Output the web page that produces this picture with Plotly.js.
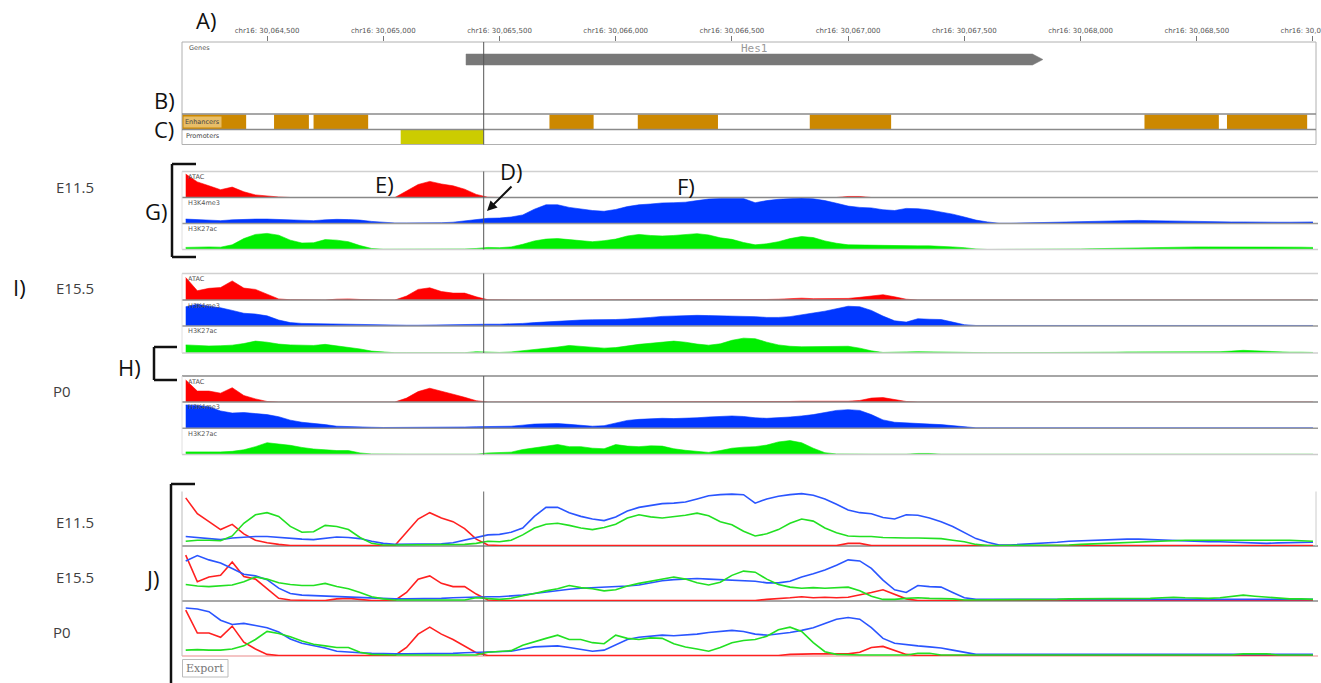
<!DOCTYPE html>
<html><head><meta charset="utf-8">
<script src="https://cdn.plot.ly/plotly-3.0.1.min.js"></script>
<style>html,body{margin:0;padding:0;background:#fff;}#chart{width:1321px;height:683px;}</style>
</head><body><div id="chart"></div>
<script>
// ---------------- DATA ----------------
const viewStart = 30064134, viewEnd = 30069013;
const tickPositions = [30064500,30065000,30065500,30066000,30066500,30067000,30067500,30068000,30068500,30069000];
const tickLabels = ["chr16: 30,064,500","chr16: 30,065,000","chr16: 30,065,500","chr16: 30,066,000","chr16: 30,066,500","chr16: 30,067,000","chr16: 30,067,500","chr16: 30,068,000","chr16: 30,068,500","chr16: 30,069,000"];
const cursorPos = 30065432;
const geneName = "Hes1", geneStart = 30065356, geneEnd = 30067838;
const enhancerStarts = [30064100,30064530,30064700,30065715,30066095,30066835,30068275,30068630];
const enhancerEnds   = [30064410,30064680,30064935,30065905,30066440,30067185,30068595,30068975];
const promoterStarts = [30065075];
const promoterEnds   = [30065432];
const stages = ["E11.5","E15.5","P0"];
const marks = ["ATAC","H3K4me3","H3K27ac"];
const positions = [
30064150,30064200,30064250,30064300,30064350,30064400,30064450,30064500,30064550,30064600,
30064650,30064700,30064750,30064800,30064850,30064900,30064950,30065000,30065050,30065100,
30065150,30065200,30065250,30065300,30065350,30065400,30065450,30065500,30065550,30065600,
30065650,30065700,30065750,30065800,30065850,30065900,30065950,30066000,30066050,30066100,
30066150,30066200,30066250,30066300,30066350,30066400,30066450,30066500,30066550,30066600,
30066650,30066700,30066750,30066800,30066850,30066900,30066950,30067000,30067050,30067100,
30067150,30067200,30067250,30067300,30067350,30067400,30067450,30067500,30067550,30067600,
30067650,30067700,30067750,30067800,30067850,30067900,30067950,30068000,30068050,30068100,
30068150,30068200,30068250,30068300,30068350,30068400,30068450,30068500,30068550,30068600,
30068650,30068700,30068750,30068800,30068850,30068900,30068950,30069000];

const atacE11 = [
0.9,0.6,0.45,0.3,0.4,0.22,0.1,0.05,0.02,0,
0,0,0,0,0,0,0,0,0,0.25,
0.5,0.62,0.52,0.45,0.32,0.12,0.01,0,0,0,
0,0,0,0,0,0,0,0,0,0,
0,0,0,0,0,0,0,0,0,0,
0,0,0,0,0,0,0,0.04,0.04,0,
0,0,0,0,0,0,0,0,0,0,
0,0,0,0,0,0,0,0,0,0,
0,0,0,0,0,0,0,0,0,0,
0,0,0,0,0,0,0,0];
const k4E11 = [
0.17,0.15,0.12,0.11,0.14,0.16,0.17,0.17,0.15,0.14,
0.12,0.11,0.14,0.16,0.15,0.13,0.08,0.04,0.02,0.02,
0.02,0.02,0.03,0.05,0.1,0.16,0.2,0.21,0.25,0.33,
0.55,0.72,0.72,0.62,0.55,0.5,0.47,0.54,0.65,0.72,
0.75,0.79,0.8,0.82,0.88,0.94,0.96,0.97,0.96,0.8,
0.88,0.93,0.96,0.98,0.95,0.88,0.78,0.67,0.62,0.6,
0.53,0.5,0.58,0.57,0.52,0.45,0.36,0.25,0.13,0.06,
0.01,0.01,0.02,0.03,0.04,0.06,0.08,0.09,0.1,0.11,
0.12,0.12,0.12,0.11,0.1,0.09,0.08,0.08,0.07,0.07,
0.06,0.06,0.05,0.04,0.05,0.05,0.06,0.06];
const k27E11 = [
0.08,0.1,0.1,0.09,0.18,0.42,0.58,0.62,0.55,0.36,
0.25,0.26,0.38,0.36,0.3,0.15,0.04,0.01,0.01,0.01,
0.01,0.01,0.01,0.01,0.02,0.04,0.08,0.07,0.1,0.2,
0.33,0.4,0.42,0.38,0.33,0.3,0.34,0.4,0.52,0.58,
0.54,0.52,0.54,0.57,0.61,0.56,0.45,0.39,0.27,0.18,
0.22,0.3,0.42,0.5,0.46,0.33,0.24,0.18,0.17,0.17,
0.15,0.14,0.14,0.14,0.14,0.13,0.1,0.07,0.02,0,
0,0,0,0,0,0,0.01,0.02,0.03,0.04,
0.05,0.06,0.07,0.08,0.09,0.09,0.1,0.1,0.1,0.1,
0.1,0.1,0.1,0.11,0.11,0.1,0.09,0.08];
const atacE15 = [
0.85,0.35,0.44,0.47,0.72,0.45,0.4,0.22,0.04,0.01,
0,0,0,0.03,0.04,0.02,0,0,0,0.15,
0.4,0.46,0.32,0.26,0.26,0.12,0.01,0,0,0,
0,0,0,0,0,0,0,0,0,0,
0,0,0,0,0,0,0,0,0,0,
0.02,0.03,0.05,0.07,0.05,0.06,0.05,0.06,0.1,0.15,
0.2,0.12,0.03,0,0,0,0,0,0,0,
0,0,0,0,0,0,0,0,0,0,
0,0,0,0,0,0,0,0,0,0,
0,0,0,0,0,0,0,0];
const k4E15 = [
0.74,0.84,0.76,0.7,0.6,0.49,0.46,0.39,0.23,0.13,
0.1,0.09,0.08,0.07,0.07,0.06,0.05,0.04,0.03,0.03,
0.03,0.04,0.04,0.05,0.06,0.07,0.07,0.07,0.08,0.1,
0.13,0.16,0.19,0.21,0.23,0.24,0.24,0.25,0.27,0.29,
0.33,0.37,0.39,0.4,0.41,0.4,0.39,0.39,0.38,0.36,
0.33,0.33,0.36,0.44,0.5,0.57,0.66,0.76,0.74,0.6,
0.38,0.2,0.15,0.28,0.26,0.25,0.15,0.05,0.02,0.02,
0.02,0.02,0.02,0.02,0.02,0.02,0.02,0.02,0.03,0.03,
0.03,0.03,0.03,0.03,0.03,0.03,0.03,0.03,0.03,0.02,
0.02,0.02,0.03,0.03,0.03,0.02,0.02,0.02];
const k27E15 = [
0.3,0.27,0.26,0.27,0.29,0.35,0.44,0.4,0.33,0.3,
0.28,0.28,0.32,0.26,0.22,0.15,0.07,0.03,0.01,0.01,
0.01,0.01,0.01,0.01,0.01,0.05,0.04,0.02,0.04,0.08,
0.13,0.18,0.22,0.28,0.24,0.22,0.18,0.2,0.27,0.32,
0.36,0.41,0.44,0.4,0.33,0.29,0.34,0.47,0.55,0.53,
0.4,0.3,0.25,0.23,0.24,0.23,0.24,0.25,0.18,0.08,
0.02,0.02,0.04,0.05,0.04,0.04,0.03,0.01,0.01,0.01,
0.01,0.01,0.02,0.02,0.02,0.02,0.03,0.03,0.03,0.03,
0.03,0.04,0.04,0.04,0.05,0.06,0.05,0.04,0.04,0.05,
0.07,0.1,0.08,0.06,0.04,0.03,0.03,0.02];
const atacP0 = [
0.85,0.42,0.42,0.34,0.55,0.25,0.12,0.02,0,0,
0,0,0,0,0,0,0,0,0,0.15,
0.4,0.53,0.4,0.3,0.18,0.05,0,0,0,0,
0,0,0,0,0,0,0,0,0,0,
0,0,0,0,0,0,0,0,0,0,
0,0,0.02,0.03,0.03,0.03,0.03,0.03,0.06,0.15,
0.17,0.1,0.02,0,0,0,0,0,0,0,
0,0,0,0,0,0,0,0,0,0,
0,0,0,0,0,0,0,0,0,0,
0,0,0,0,0,0,0,0];
const k4P0 = [
0.89,0.87,0.82,0.66,0.58,0.6,0.56,0.52,0.44,0.31,
0.23,0.19,0.14,0.08,0.06,0.05,0.04,0.03,0.03,0.03,
0.03,0.03,0.03,0.04,0.05,0.06,0.07,0.07,0.08,0.12,
0.16,0.17,0.18,0.15,0.11,0.08,0.1,0.2,0.3,0.34,
0.36,0.38,0.37,0.38,0.4,0.43,0.45,0.47,0.45,0.4,
0.38,0.4,0.43,0.47,0.52,0.6,0.68,0.71,0.68,0.52,
0.32,0.23,0.2,0.18,0.16,0.14,0.1,0.06,0.02,0.02,
0.02,0.02,0.02,0.02,0.02,0.02,0.02,0.02,0.02,0.02,
0.02,0.02,0.02,0.02,0.02,0.02,0.02,0.02,0.02,0.02,
0.03,0.03,0.03,0.03,0.02,0.02,0.02,0.02];
const k27P0 = [
0.1,0.11,0.1,0.1,0.12,0.18,0.3,0.45,0.41,0.35,
0.27,0.21,0.18,0.15,0.15,0.06,0.02,0.01,0.01,0.01,
0.01,0.01,0.01,0.01,0.01,0.01,0.06,0.07,0.09,0.19,
0.26,0.32,0.38,0.3,0.3,0.24,0.22,0.38,0.32,0.3,
0.33,0.32,0.22,0.16,0.12,0.08,0.15,0.24,0.28,0.3,
0.36,0.48,0.53,0.45,0.24,0.07,0.02,0.01,0.01,0.01,
0.01,0.01,0.01,0.04,0.04,0.01,0.01,0.01,0.01,0.01,
0.01,0.01,0.01,0.01,0.01,0.01,0.01,0.01,0.01,0.01,
0.01,0.01,0.01,0.01,0.01,0.01,0.01,0.01,0.01,0.01,
0.01,0.03,0.03,0.03,0.01,0.01,0.01,0.01];

// ---------------- LAYOUT HELPERS ----------------
const W = 1321, H = 683, X0 = 182, X1 = 1316;
const fx = p => p / W;
const fy = p => 1 - p / H;
const dom = (t, b) => [1 - b / H, 1 - t / H];
const markColors = {ATAC: "#ff0000", H3K4me3: "#0036ff", H3K27ac: "#00ee00"};
const lineColors = {ATAC: "#ff2020", H3K4me3: "#2a55ff", H3K27ac: "#22e022"};
const seriesByStage = {
  "E11.5": [atacE11, k4E11, k27E11],
  "E15.5": [atacE15, k4E15, k27E15],
  "P0": [atacP0, k4P0, k27P0]
};
const groupEdges = {"E11.5": [171.5,197.5,223.5,249.5], "E15.5": [273.5,300,326,353], "P0": [376,402,428.3,454.5]};
const linePanels = {"E11.5": [491.5,546], "E15.5": [546,601], "P0": [601,656]};

const layout = {
  width: W, height: H, margin: {l:0,r:0,t:0,b:0},
  paper_bgcolor: "#fff", plot_bgcolor: "rgba(0,0,0,0)", showlegend: false,
  font: {family: "DejaVu Sans", color: "#444"},
  xaxis: {domain: [X0/W, X1/W], range: [viewStart, viewEnd], side: "top", anchor: "y",
    tickmode: "array", tickvals: tickPositions, ticktext: tickLabels, ticks: "outside", ticklen: 5,
    tickcolor: "#777", tickwidth: 1, tickfont: {family: "DejaVu Sans", size: 7, color: "#555"},
    ticklabeloverflow: "allow",
    showline: false, showgrid: false, zeroline: false, fixedrange: true},
  yaxis: {domain: dom(42,114), range: [72,0], visible: false, fixedrange: true},
  yaxis2: {domain: dom(114,129.5), range: [-0.5,0.5], visible: false, fixedrange: true},
  yaxis3: {domain: dom(129.5,144.5), range: [-0.5,0.5], visible: false, fixedrange: true},
  shapes: [], annotations: []
};
const traces = [];

// gene
const geneTop = 12, geneBot = 23, geneMid = 17.5, headBp = 45;
traces.push({type: "scatter", mode: "lines", xaxis: "x", yaxis: "y", hoverinfo: "skip",
  x: [geneStart, geneEnd - headBp, geneEnd, geneEnd - headBp, geneStart, geneStart],
  y: [geneTop, geneTop, geneMid, geneBot, geneBot, geneTop],
  fill: "toself", fillcolor: "#787878", line: {color: "#787878", width: 0.5}});
// enhancers & promoters
traces.push({type: "bar", orientation: "h", xaxis: "x", yaxis: "y2", hoverinfo: "skip",
  base: enhancerStarts, x: enhancerEnds.map((e,i) => e - enhancerStarts[i]), y: enhancerStarts.map(() => 0),
  width: 0.92, marker: {color: "#cc8800", line: {width: 0}}});
traces.push({type: "bar", orientation: "h", xaxis: "x", yaxis: "y3", hoverinfo: "skip",
  base: promoterStarts, x: promoterEnds.map((e,i) => e - promoterStarts[i]), y: promoterStarts.map(() => 0),
  width: 0.92, marker: {color: "#cccc00", line: {width: 0}}});

let axN = 4;
stages.forEach(st => {
  const e = groupEdges[st];
  marks.forEach((m, k) => {
    const name = "yaxis" + axN;
    layout[name] = {domain: dom(e[k], e[k+1]), range: [0, 1], visible: false, fixedrange: true};
    traces.push({type: "scatter", mode: "lines", xaxis: "x", yaxis: "y" + axN, hoverinfo: "skip",
      x: positions, y: seriesByStage[st][k], fill: "tozeroy", fillcolor: markColors[m],
      line: {color: markColors[m], width: 0.6}});
    layout.annotations.push({xref: "paper", yref: "paper", x: fx(186), y: fy(e[k] + 5.5), xanchor: "left", yanchor: "middle",
      text: m, showarrow: false, font: {size: 6.5, color: "#555", family: "DejaVu Sans"}});
    axN++;
  });
  const lc = st === "P0" ? ["#888", "#888", "#999", "#ccc"] : ["#d0d0d0", "#888", "#999", "#cfcfcf"];
  e.forEach((yy, j) => layout.shapes.push({type: "line", xref: "paper", yref: "paper", x0: fx(X0), x1: fx(X1 + 2), y0: fy(yy), y1: fy(yy), line: {color: lc[j], width: 1.5}}));
  layout.shapes.push({type: "line", xref: "paper", yref: "paper", x0: fx(X0), x1: fx(X0), y0: fy(e[0]), y1: fy(e[3]), line: {color: "#e0e0e0", width: 1}});
  layout.shapes.push({type: "line", xref: "x", yref: "paper", x0: cursorPos, x1: cursorPos, y0: fy(e[0]), y1: fy(e[3]), line: {color: "#555", width: 1}});
});
stages.forEach(st => {
  const p = linePanels[st];
  const name = "yaxis" + axN;
  layout[name] = {domain: dom(p[0], p[1]), range: [-0.01, 1.02], visible: false, fixedrange: true};
  marks.forEach((m, k) => {
    traces.push({type: "scatter", mode: "lines", xaxis: "x", yaxis: "y" + axN, hoverinfo: "skip",
      x: positions, y: seriesByStage[st][k], line: {color: lineColors[m], width: 1.6}});
  });
  layout.shapes.push({type: "line", xref: "paper", yref: "paper", x0: fx(X0), x1: fx(X1 + 2), y0: fy(p[1]), y1: fy(p[1]),
    line: {color: st === "P0" ? "#f0b0b0" : "#8a8a8a", width: 1.5}, layer: "below"});
  layout.annotations.push({xref: "paper", yref: "paper", x: fx(st === "P0" ? 62 : 75), y: fy((p[0] + p[1]) / 2 + 3.5), xanchor: "center", yanchor: "middle",
    text: st, showarrow: false, font: {size: 15, color: "#404040", family: "Open Sans"}});
  axN++;
});
layout.shapes.push({type: "line", xref: "paper", yref: "paper", x0: fx(X0), x1: fx(X0), y0: fy(491.5), y1: fy(656), line: {color: "#bbb", width: 1}});
layout.shapes.push({type: "line", xref: "paper", yref: "paper", x0: fx(X1), x1: fx(X1), y0: fy(491.5), y1: fy(546), line: {color: "#ccc", width: 1}});
layout.shapes.push({type: "line", xref: "x", yref: "paper", x0: cursorPos, x1: cursorPos, y0: fy(491.5), y1: fy(656), line: {color: "#666", width: 1}});

// gene box frame
layout.shapes.push({type: "rect", xref: "paper", yref: "paper", x0: fx(X0), x1: fx(X1), y0: fy(144.5), y1: fy(42), line: {color: "#b0b0b0", width: 1}});
layout.shapes.push({type: "line", xref: "paper", yref: "paper", x0: fx(X0), x1: fx(X1), y0: fy(114), y1: fy(114), line: {color: "#8a8a8a", width: 1.5}});
layout.shapes.push({type: "line", xref: "paper", yref: "paper", x0: fx(X0), x1: fx(X1), y0: fy(129.5), y1: fy(129.5), line: {color: "#8a8a8a", width: 1.5}});
layout.shapes.push({type: "line", xref: "x", yref: "paper", x0: cursorPos, x1: cursorPos, y0: fy(42), y1: fy(144.5), line: {color: "#555", width: 1}});

// stage labels for area tracks
[["E11.5", 187.5], ["E15.5", 287.5], ["P0", 391]].forEach(([t, y]) => layout.annotations.push({xref: "paper", yref: "paper",
  x: fx(t === "P0" ? 62 : 75), y: fy(y), xanchor: "center", yanchor: "middle", text: t, showarrow: false,
  font: {size: 15, color: "#404040", family: "Open Sans"}}));
// row labels
layout.annotations.push({xref: "paper", yref: "paper", x: fx(187), y: fy(48), xanchor: "left", yanchor: "middle", text: "Genes", showarrow: false, font: {size: 6.5, color: "#555"}});
layout.annotations.push({xref: "paper", yref: "paper", x: fx(183), y: fy(121.5), xanchor: "left", yanchor: "middle", text: "Enhancers", showarrow: false,
  font: {size: 6.5, color: "#444"}, bgcolor: "rgba(255,235,190,0.55)", borderpad: 1});
layout.annotations.push({xref: "paper", yref: "paper", x: fx(184), y: fy(136.5), xanchor: "left", yanchor: "middle", text: "Promoters", showarrow: false, font: {size: 6.5, color: "#444"}});
layout.annotations.push({xref: "x", yref: "paper", x: (geneStart + geneEnd) / 2, y: fy(48.5), xanchor: "center", yanchor: "middle", text: geneName, showarrow: false,
  font: {size: 11, color: "#999", family: "DejaVu Sans Mono"}});

// panel letters
const letters = [["A)", 206, 20], ["B)", 164, 100], ["C)", 164, 129], ["G)", 156, 211], ["E)", 384, 184], ["D)", 511, 171],
  ["F)", 686, 186], ["I)", 19, 287], ["H)", 129, 367], ["J)", 152, 578]];
letters.forEach(([t, x, y]) => layout.annotations.push({xref: "paper", yref: "paper", x: fx(x), y: fy(y), xanchor: "center", yanchor: "middle",
  text: t, showarrow: false, font: {size: 22, color: "#111", family: "Open Sans"}}));
// D arrow
layout.annotations.push({xref: "paper", yref: "paper", x: fx(487), y: fy(211), ax: 26, ay: -26, text: "", showarrow: true,
  arrowhead: 2, arrowsize: 1, arrowwidth: 2, arrowcolor: "#111"});
// brackets
const br = (x, y0, y1, len) => {
  layout.shapes.push({type: "line", xref: "paper", yref: "paper", x0: fx(x), x1: fx(x), y0: fy(y0), y1: fy(y1), line: {color: "#111", width: 2.5}});
  layout.shapes.push({type: "line", xref: "paper", yref: "paper", x0: fx(x), x1: fx(x + len), y0: fy(y0), y1: fy(y0), line: {color: "#111", width: 2.5}});
  if (y1 < H) layout.shapes.push({type: "line", xref: "paper", yref: "paper", x0: fx(x), x1: fx(x + len), y0: fy(y1), y1: fy(y1), line: {color: "#111", width: 2.5}});
};
br(172, 164, 257, 24);
br(154, 347, 380, 23);
br(171, 484, H + 5, 24);
// export button
layout.shapes.push({type: "rect", xref: "paper", yref: "paper", x0: fx(182.5), x1: fx(228), y0: fy(677), y1: fy(659.5), line: {color: "#bbb", width: 1}, fillcolor: "#fff"});
layout.annotations.push({xref: "paper", yref: "paper", x: fx(205), y: fy(668.5), xanchor: "center", yanchor: "middle", text: "Export", showarrow: false,
  font: {size: 11, color: "#777", family: "DejaVu Serif"}});

Plotly.newPlot("chart", traces, layout, {displayModeBar: false, staticPlot: true});
</script></body></html>
